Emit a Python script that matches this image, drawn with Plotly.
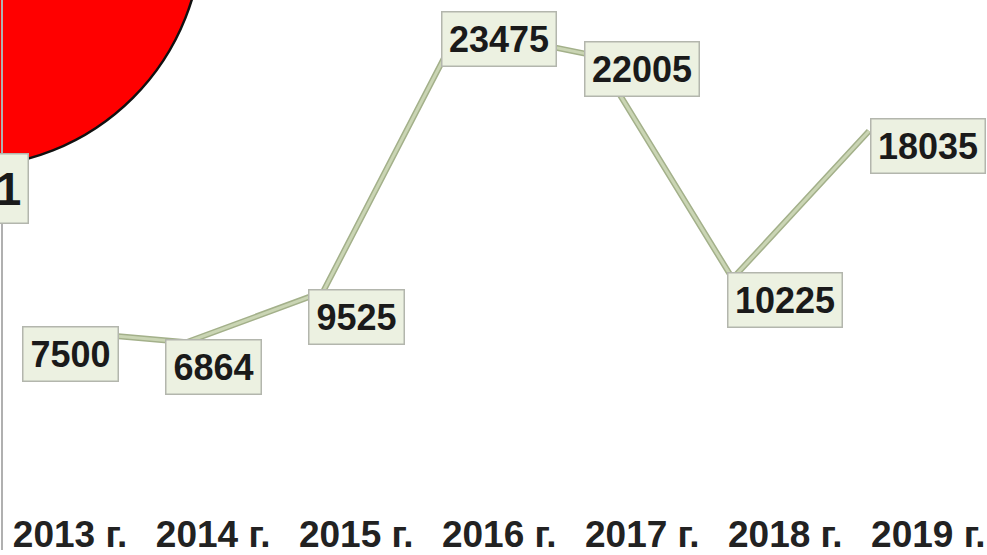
import plotly.graph_objects as go

# ---- data ----
years = ["2013 г.", "2014 г.", "2015 г.", "2016 г.", "2017 г.", "2018 г.", "2019 г."]
values = [7500, 6864, 9525, 23475, 22005, 10225, 18035]
side_label = "1"

# ---- styling / label placement (pixel offsets) ----
label_yshift = [-24, -25, -25, -11, -13, -21, -15]
W, H = 987, 555
PLOT_H = 472
FONT = "Liberation Sans, Arial, sans-serif"

fig = go.Figure()

# invisible trace to register categories on the label axis
fig.add_trace(go.Scatter(x=years, y=values, xaxis="x", yaxis="y", mode="markers",
                         marker=dict(opacity=0), hoverinfo="skip", showlegend=False))
# line (shadow + body)
fig.add_trace(go.Scatter(x=years, y=values, xaxis="x2", yaxis="y", mode="lines",
                         line=dict(color="#a3b08a", width=6), hoverinfo="skip", showlegend=False))
fig.add_trace(go.Scatter(x=years, y=values, xaxis="x2", yaxis="y", mode="lines",
                         line=dict(color="#cad5b4", width=3), showlegend=False))

annotations = []
for i, (yr, v) in enumerate(zip(years, values)):
    s = str(v)
    annotations.append(dict(
        x=yr, y=v, xref="x", yref="y", text=s, showarrow=False,
        yshift=label_yshift[i],
        font=dict(family=FONT, size=36, color="#1a1a1a", weight="bold"),
        bgcolor="#ecf1e1", bordercolor="#b3b6ad", borderwidth=1.5, borderpad=4,
        width=int(19.5 * len(s)) + 8, height=45,
    ))

# cut-off label at left
annotations.append(dict(
    x=29 / W, y=1 - 153 / PLOT_H, xref="paper", yref="paper", xanchor="right", yanchor="top",
    text=side_label, showarrow=False,
    font=dict(family=FONT, size=46, color="#1a1a1a", weight="bold"),
    bgcolor="#ecf1e1", bordercolor="#b3b6ad", borderwidth=1.5, borderpad=4,
    width=30, height=60,
))

shapes = [
    # red circle (partially visible)
    dict(type="circle", xref="paper", yref="paper",
         x0=(-34 - 236) / W, x1=(-34 + 236) / W,
         y0=1 - (-69 + 236) / PLOT_H, y1=1 - (-69 - 236) / PLOT_H,
         fillcolor="#ff0000", line=dict(color="#111111", width=2.5), layer="below"),
    # left axis line
    dict(type="line", xref="paper", yref="paper", x0=2 / W, x1=2 / W,
         y0=1 - 550 / PLOT_H, y1=1, line=dict(color="#b0b0b0", width=2)),
]

fig.update_layout(
    width=W, height=H,
    margin=dict(l=0, r=0, t=0, b=H - PLOT_H, autoexpand=False),
    paper_bgcolor="white", plot_bgcolor="white",
    showlegend=False,
    xaxis=dict(type="category", range=[-0.49, 6.41], showgrid=False, zeroline=False,
               showline=False, ticks="", ticklabelstandoff=37, automargin=False,
               tickfont=dict(family=FONT, size=37, color="#222222", weight="bold")),
    xaxis2=dict(type="category", overlaying="x", anchor="y", range=[-0.366, 6.864],
                visible=False),
    yaxis=dict(range=[0, 24960], visible=False, showgrid=False, zeroline=False,
               automargin=False),
    annotations=annotations,
    shapes=shapes,
)

fig.write_html("out.html", config={"displayModeBar": False},
               post_script="document.body.style.margin='0';document.body.style.overflow='hidden';")
